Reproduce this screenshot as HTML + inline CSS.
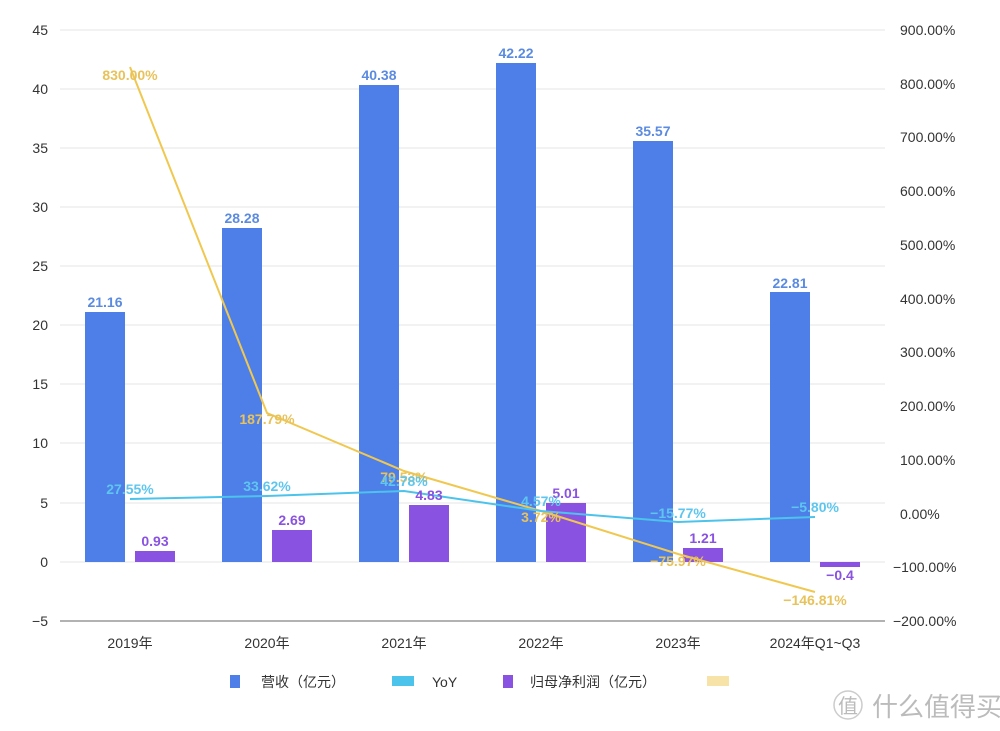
<!DOCTYPE html><html><head><meta charset="utf-8"><style>body{margin:0;background:#fff}svg{display:block}text{font-family:"Liberation Sans","Noto Sans CJK SC",sans-serif}</style></head><body>
<svg width="1000" height="731" viewBox="0 0 1000 731">
<g stroke="#e6e6e6" stroke-width="1">
<line x1="60" x2="885" y1="30" y2="30"/><line x1="60" x2="885" y1="89" y2="89"/><line x1="60" x2="885" y1="148" y2="148"/><line x1="60" x2="885" y1="207" y2="207"/><line x1="60" x2="885" y1="266" y2="266"/><line x1="60" x2="885" y1="325" y2="325"/><line x1="60" x2="885" y1="384" y2="384"/><line x1="60" x2="885" y1="443" y2="443"/><line x1="60" x2="885" y1="503" y2="503"/><line x1="60" x2="885" y1="562" y2="562"/></g>
<line x1="60" x2="885" y1="621" y2="621" stroke="#999" stroke-width="1.5"/>
<g font-size="14" fill="#333" text-anchor="end">
<text x="48" y="35">45</text><text x="48" y="94">40</text><text x="48" y="153">35</text><text x="48" y="212">30</text><text x="48" y="271">25</text><text x="48" y="330">20</text><text x="48" y="389">15</text><text x="48" y="448">10</text><text x="48" y="508">5</text><text x="48" y="567">0</text><text x="48" y="626">−5</text></g>
<g font-size="14" fill="#333">
<text x="900" y="35">900.00%</text><text x="900" y="89">800.00%</text><text x="900" y="142">700.00%</text><text x="900" y="196">600.00%</text><text x="900" y="250">500.00%</text><text x="900" y="304">400.00%</text><text x="900" y="357">300.00%</text><text x="900" y="411">200.00%</text><text x="900" y="465">100.00%</text><text x="900" y="519">0.00%</text><text x="893" y="572">−100.00%</text><text x="893" y="626">−200.00%</text></g>
<g fill="#4e7fe8">
<rect x="85" y="312" width="40" height="250"/><rect x="222" y="228" width="40" height="334"/><rect x="359" y="85" width="40" height="477"/><rect x="496" y="63" width="40" height="499"/><rect x="633" y="141" width="40" height="421"/><rect x="770" y="292" width="40" height="270"/></g>
<g fill="#8a52e0">
<rect x="135" y="551" width="40" height="11"/><rect x="272" y="530" width="40" height="32"/><rect x="409" y="505" width="40" height="57"/><rect x="546" y="503" width="40" height="59"/><rect x="683" y="548" width="40" height="14"/><rect x="820" y="562" width="40" height="5"/></g>
<polyline points="130,67 267,413 404,471 541,511 678,554 815,592" fill="none" stroke="#f0c850" stroke-width="2"/>
<polyline points="130,499 267,496 404,491 541,511 678,522 815,517" fill="none" stroke="#4cc3ea" stroke-width="2"/>
<g font-size="14" font-weight="bold" text-anchor="middle" fill="#5b8be0">
<text x="105" y="307">21.16</text><text x="242" y="223">28.28</text><text x="379" y="80">40.38</text><text x="516" y="58">42.22</text><text x="653" y="136">35.57</text><text x="790" y="288">22.81</text></g>
<g font-size="14" font-weight="bold" text-anchor="middle" fill="#8a52e0">
<text x="155" y="546">0.93</text><text x="292" y="525">2.69</text><text x="429" y="500">4.83</text><text x="566" y="498">5.01</text><text x="703" y="543">1.21</text><text x="840" y="580">−0.4</text></g>
<g font-size="14" font-weight="bold" text-anchor="middle" fill="#e8c25a">
<text x="130" y="80">830.00%</text><text x="267" y="424">187.79%</text><text x="404" y="482">79.53%</text><text x="541" y="522">3.72%</text><text x="678" y="566">−75.97%</text><text x="815" y="605">−146.81%</text></g>
<g font-size="14" font-weight="bold" text-anchor="middle" fill="#5ec6ee">
<text x="130" y="494">27.55%</text><text x="267" y="491">33.62%</text><text x="404" y="486">42.78%</text><text x="541" y="506">4.57%</text><text x="678" y="518">−15.77%</text><text x="815" y="512">−5.80%</text></g>
<g font-size="14" fill="#333" text-anchor="middle">
<text x="130" y="648">2019年</text><text x="267" y="648">2020年</text><text x="404" y="648">2021年</text><text x="541" y="648">2022年</text><text x="678" y="648">2023年</text><text x="815" y="648">2024年Q1~Q3</text></g>
<rect x="230" y="675" width="10" height="13" fill="#4e7fe8"/><text x="261" y="687" font-size="14" fill="#333">营收（亿元）</text>
<rect x="392" y="676" width="22" height="10" fill="#4cc3ea"/><text x="432" y="687" font-size="14" fill="#333">YoY</text>
<rect x="503" y="675" width="10" height="13" fill="#8a52e0"/><text x="530" y="687" font-size="14" fill="#333">归母净利润（亿元）</text>
<rect x="707" y="676" width="22" height="10" fill="#f7e2a8"/>
<circle cx="848" cy="705" r="14" fill="none" stroke="#ccc" stroke-width="1.5"/>
<text x="848" y="713" font-size="20" fill="#bbb" text-anchor="middle">值</text><text x="872" y="716" font-size="26" fill="#bbb">什么值得买</text>
</svg></body></html>
